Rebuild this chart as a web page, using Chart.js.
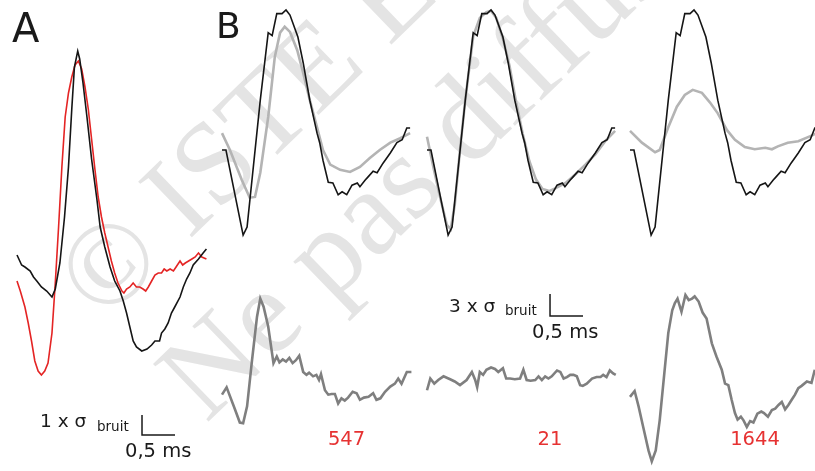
<!DOCTYPE html>
<html>
<head>
<meta charset="utf-8">
<script src="https://cdn.jsdelivr.net/npm/chart.js"></script>
<style>
body{margin:0;width:815px;height:471px;overflow:hidden;background:#fff;position:relative;}
canvas{position:absolute;z-index:2;}
svg{position:absolute;left:0;top:0;}
#wm{z-index:1;}
#lbl{z-index:3;}
</style>
</head>
<body>
<svg id="wm" width="815" height="471">
  <g font-family="Liberation Serif" fill="#e4e4e4">
    <text transform="translate(103,323) rotate(-44)" font-size="118">© ISTE Editions</text>
    <text transform="translate(206,424) rotate(-44)" font-size="122">Ne pas diffuser</text>
  </g>
</svg>
<svg id="lbl" width="815" height="471" font-family="DejaVu Sans" fill="#1a1a1a">
  <text x="12" y="42" font-size="40">A</text>
  <text x="216" y="38" font-size="36">B</text>
  <text x="40" y="427" font-size="18.5">1 x σ</text>
  <text x="97" y="431" font-size="13.5">bruit</text>
  <text x="125" y="457" font-size="19.5">0,5 ms</text>
  <text x="449" y="312" font-size="18.5">3 x σ</text>
  <text x="505" y="315" font-size="13.5">bruit</text>
  <text x="532" y="338" font-size="19.5">0,5 ms</text>
  <g fill="#e63232" font-size="19.5" text-anchor="middle">
    <text x="346.5" y="445">547</text>
    <text x="550" y="445">21</text>
    <text x="755" y="445">1644</text>
  </g>
</svg>
<script>
// temps en ms, amplitudes en multiples de sigma bruit

// A : forme moyenne (noir) et forme estimée (rouge)
const tA_noir = [0,.07,.12,.20,.25,.30,.37,.45,.53,.58,.65,.72,.78,.83,.87,.92,.95,1.00,1.06,1.13,1.21,1.26,1.33,1.41,1.48,1.56,1.61,1.66,1.71,1.76,1.81,1.89,1.97,2.04,2.09,2.16,2.19,2.24,2.29,2.34,2.39,2.47,2.52,2.57,2.62,2.67,2.75,2.82,2.87];
const vA_noir = [0,-0.5,-0.6,-0.8,-1.1,-1.3,-1.6,-1.8,-2.1,-1.7,-0.4,1.9,4.4,7.3,9.4,10.2,9.8,8.6,6.9,4.8,2.8,1.4,0.4,-0.6,-1.3,-1.8,-2.3,-2.9,-3.6,-4.3,-4.6,-4.8,-4.7,-4.5,-4.3,-4.3,-3.9,-3.7,-3.4,-2.9,-2.6,-2.1,-1.6,-1.2,-0.9,-0.5,-0.2,0.1,0.3];
const tA_rouge = [0,.05,.12,.17,.22,.27,.32,.37,.42,.47,.53,.58,.63,.68,.73,.78,.83,.88,.93,.98,1.03,1.08,1.13,1.18,1.23,1.28,1.33,1.38,1.43,1.48,1.53,1.59,1.62,1.66,1.71,1.76,1.81,1.86,1.91,1.95,1.99,2.04,2.09,2.14,2.19,2.23,2.27,2.32,2.37,2.41,2.47,2.51,2.55,2.60,2.65,2.70,2.75,2.80,2.87];
const vA_rouge = [-1.3,-1.8,-2.6,-3.4,-4.3,-5.3,-5.8,-6.0,-5.8,-5.4,-3.9,-1.4,1.4,4.4,6.9,8.1,8.9,9.5,9.7,9.3,8.4,7.3,5.8,4.3,2.9,1.9,1.1,0.4,-0.3,-0.9,-1.4,-1.8,-1.9,-1.7,-1.6,-1.4,-1.6,-1.6,-1.7,-1.8,-1.6,-1.3,-1.0,-0.9,-0.9,-0.7,-0.8,-0.7,-0.8,-0.6,-0.3,-0.5,-0.4,-0.3,-0.2,-0.1,0.1,-0.1,-0.2];

// B haut : forme de reference (noir, identique dans les 3) et formes grises
const tB_noir = [0,.06,.32,.38,.58,.70,.76,.83,.91,.97,1.03,1.15,1.23,1.33,1.44,1.48,1.53,1.61,1.68,1.76,1.82,1.89,1.97,2.05,2.09,2.17,2.21,2.29,2.35,2.44,2.55,2.65,2.73,2.80,2.85];
const vB_noir = [0,0,-11.6,-10.5,6.8,16.0,15.6,18.6,18.6,19.1,18.4,15.4,11.9,6.8,2.3,1.0,-1.4,-4.4,-4.5,-6.1,-5.7,-6.1,-4.8,-4.5,-5.0,-4.1,-3.7,-2.9,-3.1,-1.8,-0.4,1.0,1.4,3.0,3.0];
const tB_gris1 = [0,.12,.30,.42,.50,.58,.70,.80,.88,.95,1.03,1.14,1.23,1.33,1.44,1.53,1.64,1.79,1.94,2.09,2.24,2.39,2.55,2.70,2.85];
const vB_gris1 = [2.3,0,-4.1,-6.5,-6.4,-3.1,4.5,12.7,16.0,16.8,16.1,13.6,10.5,6.8,3.1,0,-2.0,-2.7,-3.0,-2.3,-1.1,0,1.0,1.6,2.3];
const tB_gris2 = [0,.1,.2,.3,.36,.42,.5,.58,.7,.8,.9,.97,1.05,1.15,1.25,1.35,1.45,1.55,1.65,1.75,1.85,1.95,2.1,2.25,2.4,2.55,2.7,2.85];
const vB_gris2 = [1.8,-2.5,-6.5,-10.2,-10.8,-7.5,0,6.8,15.5,18.0,18.8,19.0,18.0,15.2,11.5,6.5,2.2,-1.5,-4.0,-5.3,-5.6,-5.2,-4.5,-3.3,-2.0,-0.6,1.2,2.6];
const tB_gris3 = [0,.18,.38,.45,.58,.71,.83,.95,1.09,1.21,1.33,1.47,1.59,1.74,1.89,2.05,2.15,2.24,2.39,2.55,2.76,2.85];
const vB_gris3 = [2.6,1.0,-0.3,0,3.1,5.9,7.5,8.2,7.8,6.5,5.0,2.7,1.4,0.4,0.1,0.3,0.1,0.5,1.0,1.2,2.0,2.4];

// B bas : residus
const tBas1 = [0,.07,.20,.27,.32,.38,.45,.53,.58,.63,.70,.78,.83,.87,.92,.97,1.02,1.07,1.12,1.17,1.23,1.28,1.32,1.38,1.43,1.47,1.50,1.56,1.61,1.66,1.71,1.76,1.81,1.86,1.91,1.98,2.04,2.09,2.15,2.22,2.29,2.34,2.40,2.47,2.55,2.62,2.67,2.72,2.80,2.87];
const vBas1 = [-2.0,-1.0,-4.1,-5.8,-5.9,-3.6,2.3,8.6,11.1,10.0,7.3,2.3,3.2,2.4,2.8,2.5,3.0,2.3,2.7,3.3,1.1,0.7,1.0,0.5,0.7,0,0.8,-1.4,-2.0,-1.9,-1.9,-3.2,-2.5,-2.8,-2.4,-1.6,-1.8,-2.7,-2.4,-2.3,-1.8,-2.7,-2.5,-1.6,-0.9,-0.5,0.2,-0.5,1.1,1.1];
const tBas2 = [0,.05,.11,.17,.25,.35,.42,.50,.60,.68,.73,.76,.80,.85,.90,.97,1.03,1.08,1.15,1.20,1.26,1.33,1.41,1.46,1.51,1.57,1.64,1.69,1.74,1.79,1.84,1.89,1.97,2.02,2.07,2.12,2.17,2.22,2.27,2.32,2.36,2.42,2.50,2.57,2.63,2.67,2.72,2.77,2.82,2.86];
const vBas2 = [-1.4,0.2,-0.5,0,0.5,0.1,-0.2,-0.7,0,1.1,0,-1.0,1.1,0.7,1.4,1.7,1.5,1.1,1.6,0.2,0.2,0.1,0.2,1.4,0,-0.1,0,0.5,0,0.5,0.2,0.5,1.3,1.1,0.2,0.4,0.7,0.7,0.5,-0.7,-0.8,-0.5,0.2,0.4,0.4,0.7,0.4,1.3,0.9,0.7];
const tBas3 = [0,.07,.13,.20,.28,.33,.39,.45,.52,.58,.64,.68,.72,.78,.84,.89,.94,.98,1.04,1.10,1.16,1.24,1.31,1.39,1.44,1.49,1.54,1.59,1.63,1.68,1.72,1.77,1.82,1.87,1.93,1.99,2.03,2.09,2.15,2.20,2.25,2.30,2.35,2.40,2.45,2.50,2.55,2.60,2.68,2.75,2.80];
const vBas3 = [-2.3,-1.5,-3.6,-6.4,-9.6,-11.1,-9.6,-5.5,0.9,6.4,9.5,10.5,11.1,9.3,11.6,10.9,11.1,11.4,10.7,9.2,8.4,5.0,3.2,1.4,-0.5,-0.7,-2.7,-4.5,-5.4,-5.0,-5.5,-6.4,-5.6,-5.8,-4.6,-4.3,-4.5,-5.0,-4.1,-3.9,-3.4,-3.0,-4.0,-3.4,-2.7,-2.0,-1.1,-0.8,-0.2,-0.4,1.4];

const NOIR = "#151515", ROUGE = "#e42424", GRIS_CLAIR = "#b4b4b4", GRIS = "#7f7f7f";

function serie(t, v, color, width){
    return {
        data: t.map((x, i) => ({x: x, y: v[i]})),
        borderColor: color,
        borderWidth: width,
        pointRadius: 0,
        tension: 0,
        fill: false
    };
}

// barre d'echelle en L : dt ms horizontal, da sigma vertical
function barre(t0, a0, dt, da){
    return {
        id: "barre",
        afterDraw(chart){
            let ctx = chart.ctx, x = chart.scales.x, y = chart.scales.y;
            let px = x.getPixelForValue(t0), py = y.getPixelForValue(a0);
            ctx.save();
            ctx.strokeStyle = "#1a1a1a";
            ctx.lineWidth = 1.5;
            ctx.beginPath();
            ctx.moveTo(px, y.getPixelForValue(a0 + da));
            ctx.lineTo(px, py);
            ctx.lineTo(x.getPixelForValue(t0 + dt), py);
            ctx.stroke();
            ctx.restore();
        }
    };
}

// x0,y0 : pixel de l'origine (t=0, a=0) ; kx px/ms ; ky px/sigma
function panneau(x0, y0, kx, ky, left, top, w, h, sets, extra){
    let cv = document.createElement("canvas");
    cv.width = w; cv.height = h;
    cv.style.left = left + "px";
    cv.style.top = top + "px";
    document.body.appendChild(cv);
    new Chart(cv, {
        type: "line",
        data: { datasets: sets },
        options: {
            responsive: false,
            animation: false,
            events: [],
            layout: { padding: 0 },
            plugins: { legend: { display: false }, tooltip: { enabled: false } },
            scales: {
                x: { type: "linear", display: false, min: (left - x0) / kx, max: (left + w - x0) / kx },
                y: { type: "linear", display: false, min: (y0 - top - h) / ky, max: (y0 - top) / ky }
            }
        },
        plugins: extra ? [extra] : []
    });
}

const KX = 66, KA = 20, KB = 22 / 3;

panneau(17, 255, KX, KA, 13, 0, 201, 471, [
    serie(tA_noir, vA_noir, NOIR, 1.6),
    serie(tA_rouge, vA_rouge, ROUGE, 1.6)
], barre(1.894, -9.0, 0.5, 1));

let x0s = [222, 427, 630];
let gris = [[tB_gris1, vB_gris1], [tB_gris2, vB_gris2], [tB_gris3, vB_gris3]];
let bas = [[tBas1, vBas1], [tBas2, vBas2], [tBas3, vBas3]];

x0s.forEach((x0, i) => {
    panneau(x0, 150, KX, KB, x0 - 4, 0, 196, 245, [
        serie(tB_noir, vB_noir, NOIR, 1.6),
        serie(gris[i][0], gris[i][1], GRIS_CLAIR, 2.6)
    ]);
    panneau(x0, 380, KX, KB, x0 - 4, 285, 196, 186, [
        serie(bas[i][0], bas[i][1], GRIS, 2.6)
    ], i == 1 ? barre(1.864, 8.73, 0.5, 3) : null);
});
</script>
</body>
</html>
